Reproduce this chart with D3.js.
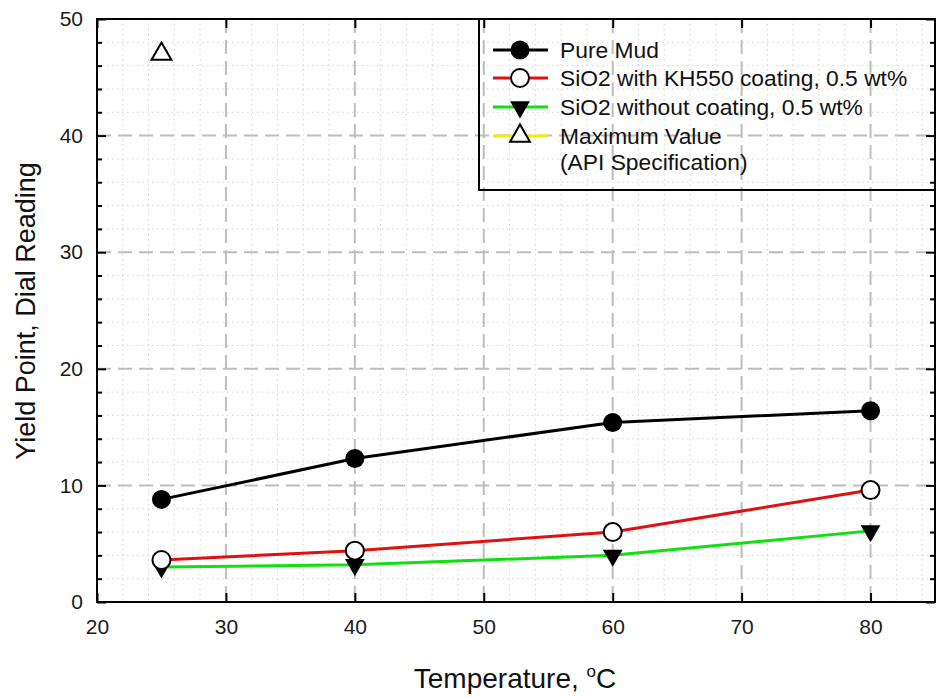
<!DOCTYPE html>
<html>
<head>
<meta charset="utf-8">
<script src="https://cdn.jsdelivr.net/npm/d3@7/dist/d3.min.js"></script>
<style>
  html, body { margin: 0; padding: 0; background: #fff; }
  svg { display: block; font-family: "Liberation Sans", Arial, sans-serif; }
</style>
</head>
<body>
<svg id="chart" width="940" height="698"></svg>
<script>
// Yield point (dial reading) versus temperature for the drilling-mud samples
const temperatures = [25, 40, 60, 80];
const pureMud = [8.8, 12.3, 15.4, 16.4];
const sio2Kh550 = [3.6, 4.4, 6.0, 9.6];
const sio2Uncoated = [3.0, 3.2, 4.0, 6.1];
const apiTemperature = [25];
const apiMaximum = [47];

const xTicks = [20, 30, 40, 50, 60, 70, 80];
const yTicks = [0, 10, 20, 30, 40, 50];
const xMinor = d3.range(20, 86, 2).filter(v => v % 10 !== 0);
const yMinor = d3.range(0, 51, 2).filter(v => v % 10 !== 0);

const legendLabels = [
  ["Pure Mud"],
  ["SiO2 with KH550 coating, 0.5 wt%"],
  ["SiO2 without coating, 0.5 wt%"],
  ["Maximum Value", "(API Specification)"]
];

const svg = d3.select("#chart");
const plotLeft = 97, plotTop = 19, plotRight = 935, plotBottom = 602;

const x = d3.scaleLinear().domain([20, 85]).range([plotLeft, plotRight]);
const y = d3.scaleLinear().domain([0, 50]).range([plotBottom, plotTop]);

// grid: dotted minor lines, dashed major lines
const grid = svg.append("g");
grid.selectAll("line.vminor").data(xMinor).join("line")
  .attr("x1", d => x(d)).attr("x2", d => x(d)).attr("y1", plotTop).attr("y2", plotBottom)
  .attr("stroke", "#d4d4d4").attr("stroke-width", 1).attr("stroke-dasharray", "1.5,3.5");
grid.selectAll("line.hminor").data(yMinor).join("line")
  .attr("y1", d => y(d)).attr("y2", d => y(d)).attr("x1", plotLeft).attr("x2", plotRight)
  .attr("stroke", "#d4d4d4").attr("stroke-width", 1).attr("stroke-dasharray", "1.5,3.5");
grid.selectAll("line.vmajor").data(xTicks.filter(v => v > 20)).join("line")
  .attr("x1", d => x(d)).attr("x2", d => x(d)).attr("y1", plotTop).attr("y2", plotBottom)
  .attr("stroke", "#bdbdbd").attr("stroke-width", 2).attr("stroke-dasharray", "14,7");
grid.selectAll("line.hmajor").data(yTicks.filter(v => v > 0 && v < 50)).join("line")
  .attr("y1", d => y(d)).attr("y2", d => y(d)).attr("x1", plotLeft).attr("x2", plotRight)
  .attr("stroke", "#bdbdbd").attr("stroke-width", 2).attr("stroke-dasharray", "14,7");

// axes with inward ticks
function styleAxis(g) {
  g.select(".domain").remove();
  g.selectAll(".tick line").attr("stroke", "#000").attr("stroke-width", 2);
  g.selectAll(".tick text").attr("fill", "#1a1a1a").style("font-size", "21px")
    .style("font-family", "'Liberation Sans', Arial, sans-serif");
}
svg.append("g").attr("transform", `translate(0,${plotBottom})`)
  .call(d3.axisBottom(x).tickValues(xTicks).tickSizeInner(-9).tickSizeOuter(0).tickPadding(17))
  .call(styleAxis);
svg.append("g").attr("transform", `translate(0,${plotTop})`)
  .call(d3.axisTop(x).tickValues(xTicks).tickSizeInner(-9).tickSizeOuter(0).tickFormat(""))
  .call(styleAxis);
svg.append("g").attr("transform", `translate(${plotLeft},0)`)
  .call(d3.axisLeft(y).tickValues(yTicks).tickSizeInner(-9).tickSizeOuter(0).tickPadding(14))
  .call(styleAxis);
svg.append("g").attr("transform", `translate(${plotLeft},0)`)
  .call(d3.axisLeft(y).tickValues(yMinor).tickSizeInner(-5).tickSizeOuter(0).tickFormat(""))
  .call(styleAxis);
svg.append("g").attr("transform", `translate(${plotRight},0)`)
  .call(d3.axisRight(y).tickValues(yTicks).tickSizeInner(-9).tickSizeOuter(0).tickFormat(""))
  .call(styleAxis);
svg.append("g").attr("transform", `translate(${plotRight},0)`)
  .call(d3.axisRight(y).tickValues(yMinor).tickSizeInner(-5).tickSizeOuter(0).tickFormat(""))
  .call(styleAxis);

// plot frame
svg.append("rect").attr("x", plotLeft).attr("y", plotTop)
  .attr("width", plotRight - plotLeft).attr("height", plotBottom - plotTop)
  .attr("fill", "none").attr("stroke", "#000").attr("stroke-width", 2);

// series
const series = [
  { values: pureMud, color: "#000000", symbol: "dot" },
  { values: sio2Kh550, color: "#e01010", symbol: "ring" },
  { values: sio2Uncoated, color: "#10e010", symbol: "down" }
];
const line = d3.line().x(d => x(d[0])).y(d => y(d[1]));
const tri = d3.symbol().type(d3.symbolTriangle).size(170);

function drawMarker(g, kind, px, py) {
  if (kind === "dot") {
    g.append("circle").attr("cx", px).attr("cy", py).attr("r", 9.5).attr("fill", "#000");
  } else if (kind === "ring") {
    g.append("circle").attr("cx", px).attr("cy", py).attr("r", 9)
      .attr("fill", "#fff").attr("stroke", "#000").attr("stroke-width", 2);
  } else if (kind === "down") {
    g.append("path").attr("d", tri()).attr("transform", `translate(${px},${py}) rotate(180)`)
      .attr("fill", "#000");
  } else if (kind === "up") {
    g.append("path").attr("d", tri()).attr("transform", `translate(${px},${py})`)
      .attr("fill", "#fff").attr("stroke", "#000").attr("stroke-width", 2);
  }
}

const plot = svg.append("g");
series.forEach(s => {
  const pts = temperatures.map((t, i) => [t, s.values[i]]);
  plot.append("path").attr("d", line(pts)).attr("fill", "none")
    .attr("stroke", s.color).attr("stroke-width", 3);
});
series.slice().reverse().forEach(s => {
  temperatures.forEach((t, i) => drawMarker(plot, s.symbol, x(t), y(s.values[i])));
});
apiTemperature.forEach((t, i) => drawMarker(plot, "up", x(t), y(apiMaximum[i])));

// legend
const legend = svg.append("g");
legend.append("rect").attr("x", 479).attr("y", plotTop).attr("width", plotRight - 479).attr("height", 171)
  .attr("fill", "none").attr("stroke", "#000").attr("stroke-width", 2);
const legendStyles = [
  { color: "#000000", symbol: "dot" },
  { color: "#e01010", symbol: "ring" },
  { color: "#10e010", symbol: "down" },
  { color: "#f0f000", symbol: "up" }
];
const rowY = [50, 78, 107, 136];
legendLabels.forEach((lines, i) => {
  const ry = rowY[i];
  legend.append("line").attr("x1", 493).attr("x2", 548).attr("y1", ry).attr("y2", ry)
    .attr("stroke", legendStyles[i].color).attr("stroke-width", 3);
  drawMarker(legend, legendStyles[i].symbol, 520, ry);
  const t = legend.append("text").attr("x", 560).attr("y", ry + 7.5)
    .attr("fill", "#111").style("font-size", "22.8px");
  lines.forEach((s, k) => {
    t.append("tspan").attr("x", 560).attr("dy", k === 0 ? 0 : 26).text(s);
  });
});

// axis titles
const xt = svg.append("text").attr("x", 515).attr("y", 688).attr("text-anchor", "middle")
  .attr("fill", "#111").style("font-size", "28px");
xt.append("tspan").text("Temperature, ");
xt.append("tspan").attr("dy", -11).style("font-size", "17px").text("o");
xt.append("tspan").attr("dy", 11).text("C");

svg.append("text").attr("transform", "translate(35,311) rotate(-90)")
  .attr("text-anchor", "middle").attr("fill", "#111").style("font-size", "27px")
  .text("Yield Point, Dial Reading");
</script>
</body>
</html>
